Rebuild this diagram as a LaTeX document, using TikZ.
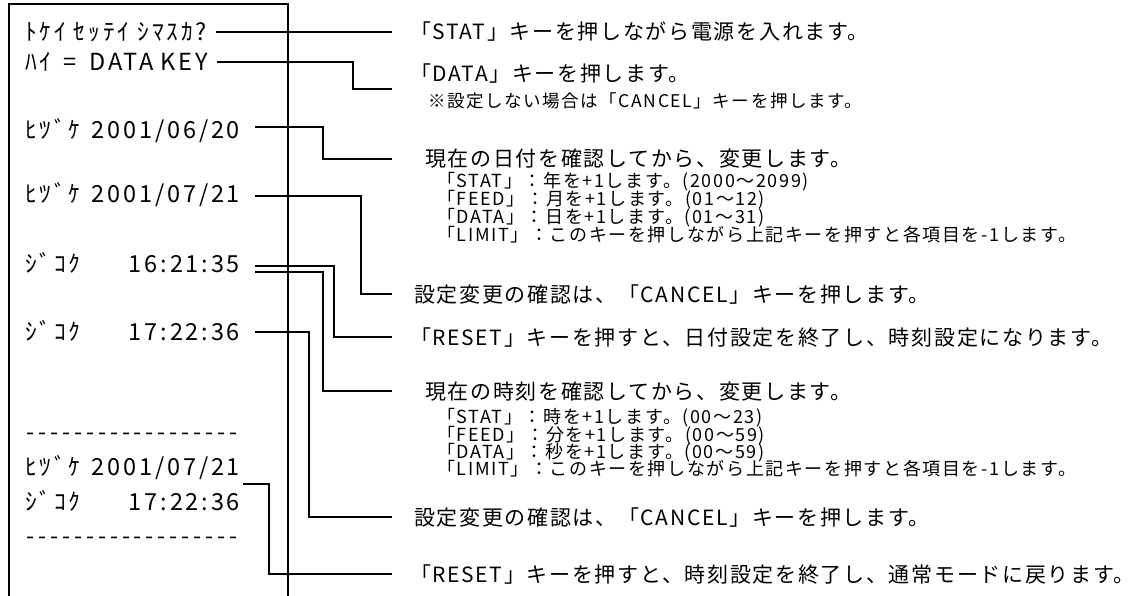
\documentclass[tikz,border=0pt]{standalone}
\usepackage{fontspec}
\setmainfont{Noto Sans CJK JP}
\newfontfamily\rcptfont[LetterSpace=12]{Noto Sans CJK JP}
\newfontfamily\msgfont[LetterSpace=8]{Noto Sans CJK JP}
\newfontfamily\subfont[LetterSpace=9]{Noto Sans CJK JP}
\newcommand\dashline{\foreach \i in {1,...,18}{\makebox[11.9pt]{-}}}
\tikzstyle{rcpt}=[inner sep=0pt, text height=17pt, text depth=0pt, font=\rcptfont\fontsize{23.5}{28}\selectfont]
\tikzstyle{rlab}=[rcpt, anchor=west, outer xsep=9pt]
\tikzstyle{rval}=[rcpt, anchor=east, outer xsep=15pt]
\tikzstyle{msg}=[anchor=west, inner sep=0pt, outer xsep=18pt, text height=18.5pt, text depth=2.5pt, font=\msgfont\fontsize{21}{25}\selectfont]
\tikzstyle{sub}=[anchor=west, inner sep=0pt, text height=15pt, text depth=0.8pt, font=\subfont\fontsize{18}{21}\selectfont]
\tikzstyle{note}=[sub, font=\subfont\fontsize{17.5}{21}\selectfont]
\tikzstyle{link}=[line width=1.1pt]

\begin{document}
\begin{tikzpicture}[x=1pt, y=-1pt]
        \useasboundingbox (0,0) rectangle (1131,596);
        \draw[line width=1.8pt] (9,596) -- (9,4) -- (288,4) -- (288,596);
        \node[rlab] (K1) at (16,32) {ﾄｹｲ ｾｯﾃｲ ｼﾏｽｶ?};
        \node[rlab] (K2) at (16,62) {ﾊｲ\hspace{12pt}=\hspace{13pt}DATA\hspace{7pt}KEY};
        \node[rlab] (K3lab) at (16,130) {ﾋﾂﾞｹ};
        \node[rval] (V3) at (255,130) {2001/06/20};
        \node[rlab] (K4lab) at (16,194) {ﾋﾂﾞｹ};
        \node[rval] (V4) at (255,194) {2001/07/21};
        \node[rlab] (K5lab) at (16,264) {ｼﾞｺｸ};
        \node[rval] (V5) at (255,264) {16:21:35};
        \node[rlab] (K6lab) at (16,332) {ｼﾞｺｸ};
        \node[rval] (V6) at (255,332) {17:22:36};
        \node[rlab] (D1) at (16,432) {\dashline};
        \node[rlab] (K7lab) at (16,467) {ﾋﾂﾞｹ};
        \node[rval] (V7) at (255,467) {2001/07/21};
        \node[rlab] (K8lab) at (16,502) {ｼﾞｺｸ};
        \node[rval] (V8) at (255,502) {17:22:36};
        \node[rlab] (D2) at (16,536) {\dashline};
        \coordinate (s8) at (243,484);
        \node[msg] (M1) at (392,32) {「STAT」キーを押しながら電源を入れます。};
        \node[msg] (M2) at (392,74) {「DATA」キーを押します。};
        \node[note] (M2note) at (428,100) {※設定しない場合は「CANCEL」キーを押します。};
        \coordinate (c2) at (392,89);
        \node[msg] (M3) at (392,159) {\hspace{15pt}現在の日付を確認してから、変更します。};
        \node[sub] (M3a) at (437,180) {「STAT」：年を+1します。(2000～2099)};
        \node[sub] (M3b) at (437,198) {「FEED」：月を+1します。(01～12)};
        \node[sub] (M3c) at (437,216) {「DATA」：日を+1します。(01～31)};
        \node[sub] (M3d) at (437,234) {「LIMIT」：このキーを押しながら上記キーを押すと各項目を-1します。};
        \node[msg] (M4) at (392,294) {\hspace{4pt}設定変更の確認は、「CANCEL」キーを押します。};
        \node[msg] (M5) at (392,337) {「RESET」キーを押すと、日付設定を終了し、時刻設定になります。};
        \node[msg] (M6) at (392,391) {\hspace{15pt}現在の時刻を確認してから、変更します。};
        \node[sub] (M6a) at (437,416) {「STAT」：時を+1します。(00～23)};
        \node[sub] (M6b) at (437,434) {「FEED」：分を+1します。(00～59)};
        \node[sub] (M6c) at (437,451) {「DATA」：秒を+1します。(00～59)};
        \node[sub] (M6d) at (437,468) {「LIMIT」：このキーを押しながら上記キーを押すと各項目を-1します。};
        \node[msg] (M7) at (392,517) {\hspace{4pt}設定変更の確認は、「CANCEL」キーを押します。};
        \node[msg] (M8) at (392,574) {「RESET」キーを押すと、時刻設定を終了し、通常モードに戻ります。};
        \draw[link] (K1.east) -- (M1.west);
        \draw[link] (K2.east) -| (353,89) -- (c2);
        \draw[link] ([yshift=3pt]V3.east) -- ++(68,0) |- (M3.west);
        \draw[link] ([yshift=-2pt]V4.east) -- ++(106,0) |- (M4.west);
        \draw[link] ([yshift=-2pt]V5.east) -- ++(79,0) |- (M5.west);
        \draw[link] ([yshift=-8pt]V5.east) -- ++(68,0) |- (M6.west);
        \draw[link] (V6.east) -- ++(54,0) |- (M7.west);
        \draw[link] (s8) -- ++(26,0) |- (M8.west);
    \end{tikzpicture}
\end{document}
